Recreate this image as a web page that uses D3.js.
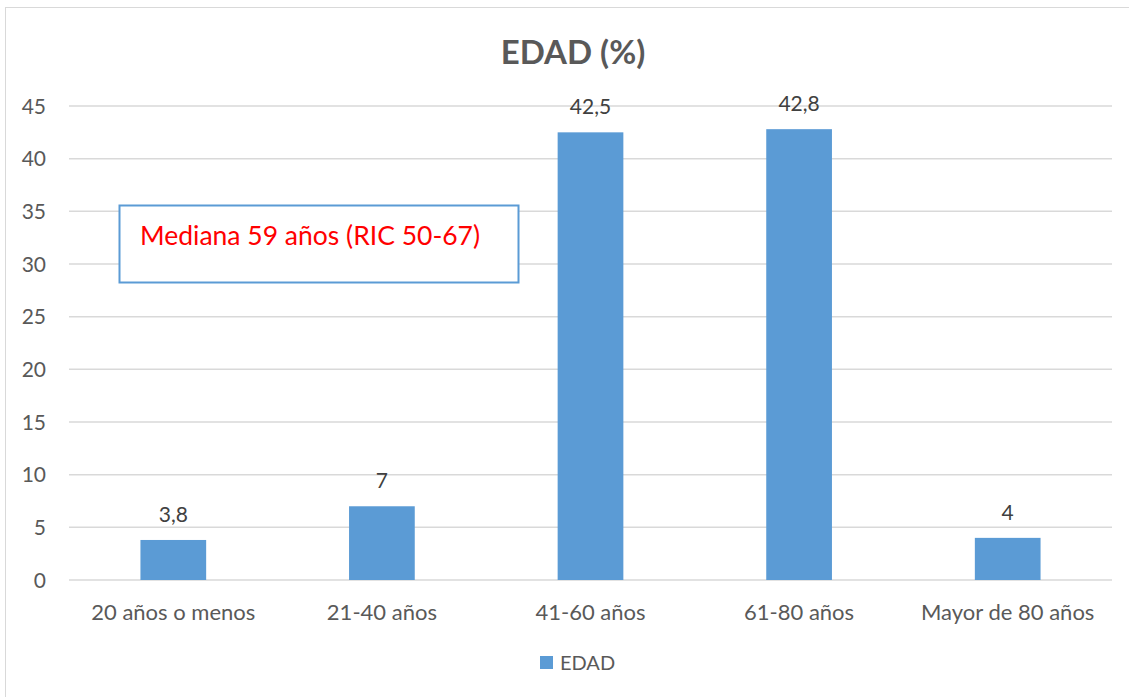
<!DOCTYPE html>
<html><head><meta charset="utf-8">
<script src="https://cdn.jsdelivr.net/npm/d3@7"></script>
<style>body{margin:0;background:#fff}svg{display:block}text{font-family:Lato,"Open Sans",sans-serif}</style>
</head><body>
<script>
const categories = ["20 años o menos","21-40 años","41-60 años","61-80 años","Mayor de 80 años"];
const values = [3.8, 7, 42.5, 42.8, 4];
const valueLabels = ["3,8","7","42,5","42,8","4"];
const yTicks = [0,5,10,15,20,25,30,35,40,45];
const seriesName = "EDAD";
const title = "EDAD (%)";
const annotation = "Mediana 59 años (RIC 50-67)";

const W=1129,H=697;
const svg=d3.select("body").append("svg").attr("width",W).attr("height",H);
svg.append("rect").attr("x",5.5).attr("y",7.5).attr("width",1130).attr("height",700).attr("fill","#fff").attr("stroke","#d9d9d9");
const m={l:69,r:1112,t:106,b:580};
const x=d3.scaleBand().domain(categories).range([m.l,m.r]).paddingInner(0.685).paddingOuter(0.3425);
const y=d3.scaleLinear().domain([0,45]).range([m.b,m.t]);
const grid=svg.append("g");
yTicks.forEach(t=>{
  grid.append("line").attr("x1",m.l).attr("x2",m.r).attr("y1",y(t)).attr("y2",y(t)).attr("stroke","#d9d9d9").attr("stroke-width",1.5);
  svg.append("text").attr("x",46).attr("y",y(t)).attr("dy","0.36em").attr("text-anchor","end").attr("fill","#595959").attr("font-size",21).text(t);
});
svg.selectAll(".bar").data(values).enter().append("rect")
  .attr("x",(d,i)=>x(categories[i])).attr("width",x.bandwidth())
  .attr("y",d=>y(d)).attr("height",d=>y(0)-y(d)).attr("fill","#5b9bd5");
svg.selectAll(".vl").data(values).enter().append("text")
  .attr("x",(d,i)=>x(categories[i])+x.bandwidth()/2).attr("y",d=>y(d)-18)
  .attr("text-anchor","middle").attr("fill","#404040").attr("font-size",21).text((d,i)=>valueLabels[i]);
categories.forEach(c=>{
  svg.append("text").attr("x",x(c)+x.bandwidth()/2).attr("y",m.b+40).attr("text-anchor","middle").attr("fill","#595959").attr("font-size",22).text(c);
});
svg.append("text").attr("x",573).attr("y",64).attr("text-anchor","middle").attr("font-weight","bold").attr("font-size",33).attr("fill","#595959").text(title);
svg.append("rect").attr("x",119.5).attr("y",205.5).attr("width",399).attr("height",77).attr("fill","#fff").attr("stroke","#5b9bd5").attr("stroke-width",2);
svg.append("text").attr("x",140).attr("y",245).attr("fill","#ff0000").attr("font-size",26.5).text(annotation);
svg.append("rect").attr("x",540).attr("y",656).attr("width",13).attr("height",13).attr("fill","#5b9bd5");
svg.append("text").attr("x",560).attr("y",670).attr("fill","#595959").attr("font-size",20).text(seriesName);
</script>
</body></html>
